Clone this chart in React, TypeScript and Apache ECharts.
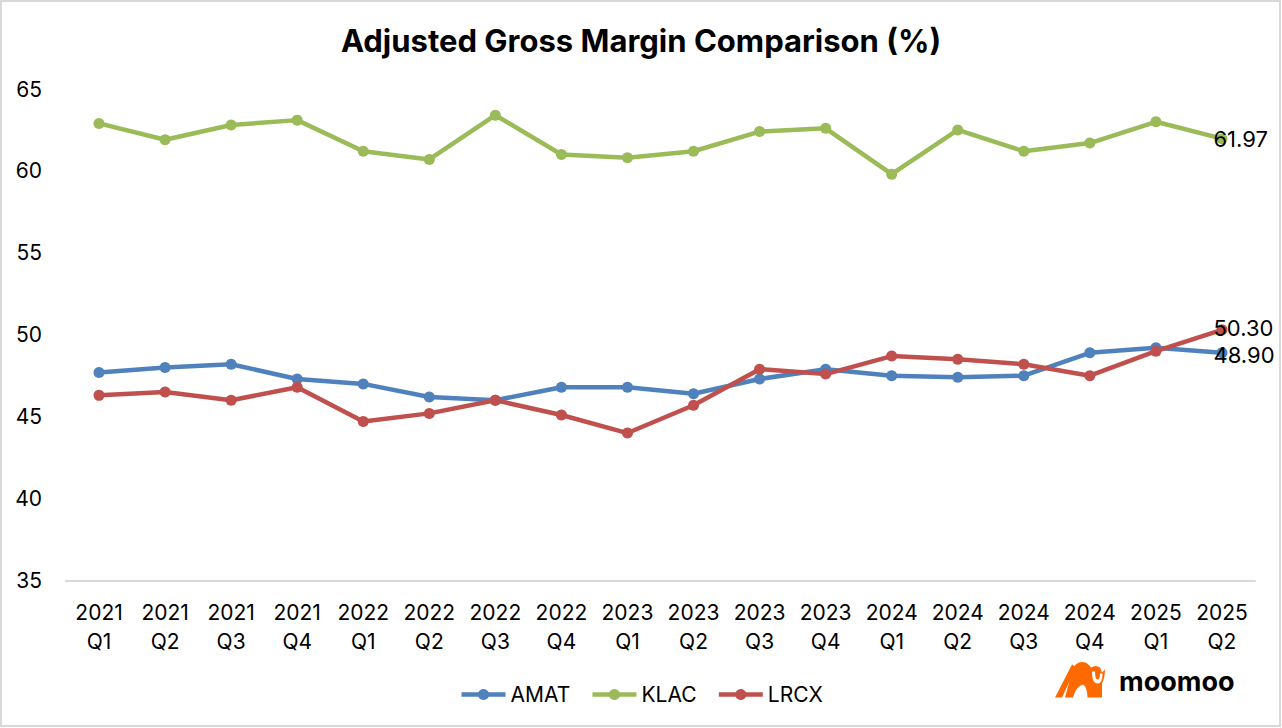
import React, { useEffect, useRef } from "react";
import * as echarts from "echarts";

const categories = [
  "2021\nQ1", "2021\nQ2", "2021\nQ3", "2021\nQ4",
  "2022\nQ1", "2022\nQ2", "2022\nQ3", "2022\nQ4",
  "2023\nQ1", "2023\nQ2", "2023\nQ3", "2023\nQ4",
  "2024\nQ1", "2024\nQ2", "2024\nQ3", "2024\nQ4",
  "2025\nQ1", "2025\nQ2",
];
const amat = [47.7, 48.0, 48.2, 47.3, 47.0, 46.2, 46.0, 46.8, 46.8, 46.4, 47.3, 47.9, 47.5, 47.4, 47.5, 48.9, 49.2, 48.9];
const klac = [62.9, 61.9, 62.8, 63.1, 61.2, 60.7, 63.4, 61.0, 60.8, 61.2, 62.4, 62.6, 59.8, 62.5, 61.2, 61.7, 63.0, 61.97];
const lrcx = [46.3, 46.5, 46.0, 46.8, 44.7, 45.2, 46.0, 45.1, 44.0, 45.7, 47.9, 47.6, 48.7, 48.5, 48.2, 47.5, 49.0, 50.3];
const yMin = 35;
const yMax = 65;
const yInterval = 5;

const BULL =
  "M0 36 L7 36 L20 8 Q20.5 4 17 3 Z " +
  "M10 36 L18 36 Q21 25 28 23 Q32 25 32.5 36 L47 36 L47 22 Q50 16 50 8 L47 11 L45 6 Q41 3 36 6 Q31 -1 24 1 Q18 3 16 14 Z";
const FACE = "M37 10 L40 10 Q40 18 42.5 18 Q45 18 45 12 L47.5 12 Q47.5 22 42.5 22 Q37 22 37 10 Z";

let registered = false;
function registerShapes() {
  if (registered) return;
  echarts.graphic.registerShape("bullBody", echarts.graphic.extendPath(BULL, {}));
  echarts.graphic.registerShape("bullFace", echarts.graphic.extendPath(FACE, {}));
  registered = true;
}

const FONT = "Inter";

function makeSeries(name: string, values: number[], color: string, labelDy: number) {
  return {
    name,
    type: "line",
    data: values.map((v, i) =>
      i === values.length - 1
        ? { value: v, label: { show: true, offset: [-14, labelDy] } }
        : v
    ),
    symbol: "circle",
    symbolSize: 11,
    lineStyle: { width: 4.5, color },
    itemStyle: { color },
    label: {
      show: false,
      position: "right",
      distance: 0,
      fontSize: 22,
      lineHeight: 20,
      fontFamily: FONT,
      color: "#000",
      formatter: (p: any) => Number(p.value).toFixed(2),
    },
    emphasis: { disabled: true },
  };
}

export default function App() {
  const ref = useRef<HTMLDivElement>(null);
  useEffect(() => {
    if (!ref.current) return;
    registerShapes();
    const chart = echarts.init(ref.current, undefined, { renderer: "svg" });
    chart.setOption({
      animation: false,
      backgroundColor: "#fff",
      title: {
        text: "Adjusted Gross Margin Comparison (%)",
        left: "center",
        top: 20,
        textStyle: { fontFamily: FONT, fontWeight: "bold", fontSize: 31, color: "#000" },
      },
      grid: { left: 66, right: 27, top: 89, bottom: 147.5, containLabel: false },
      xAxis: {
        type: "category",
        data: categories,
        boundaryGap: true,
        axisLine: { show: true, lineStyle: { color: "#d9d9d9", width: 2 } },
        axisTick: { show: false },
        axisLabel: {
          interval: 0,
          margin: 17,
          fontSize: 21,
          lineHeight: 29,
          fontFamily: FONT,
          color: "#000",
        },
        splitLine: { show: false },
      },
      yAxis: {
        type: "value",
        min: yMin,
        max: yMax,
        interval: yInterval,
        axisLine: { show: false },
        axisTick: { show: false },
        splitLine: { show: false },
        axisLabel: { margin: 24, fontSize: 21, fontFamily: FONT, color: "#000" },
      },
      legend: {
        left: "center",
        top: 679,
        itemWidth: 44,
        itemHeight: 14,
        itemGap: 20,
        lineStyle: { width: 4.5 },
        textStyle: { fontSize: 21, fontFamily: FONT, color: "#000" },
        data: ["AMAT", "KLAC", "LRCX"],
      },
      series: [
        makeSeries("AMAT", amat, "#4F81BD", 2),
        makeSeries("KLAC", klac, "#9BBB59", 0),
        makeSeries("LRCX", lrcx, "#C0504D", -2),
      ],
      graphic: [
        {
          type: "rect",
          shape: { x: 1, y: 1, width: 1279, height: 725 },
          style: { fill: "none", stroke: "#d9d9d9", lineWidth: 2 },
          silent: true,
        },
        {
          type: "group",
          left: 1055,
          top: 662,
          children: [
            { type: "bullBody", x: 0, y: 0, scaleX: 1, scaleY: 1, style: { fill: "#FF6A00" } },
            { type: "bullFace", x: 0, y: 0, scaleX: 1, scaleY: 1, style: { fill: "#fff" } },
          ],
        },
        {
          type: "text",
          left: 1119,
          top: 668,
          style: {
            text: "moomoo",
            fontFamily: FONT,
            fontWeight: "bold",
            fontSize: 27,
            fill: "#000",
          },
        },
      ],
    });
    return () => chart.dispose();
  }, []);
  return (
    <div
      ref={ref}
      style={{ position: "fixed", left: 0, top: 0, width: 1282, height: 728 }}
    />
  );
}
